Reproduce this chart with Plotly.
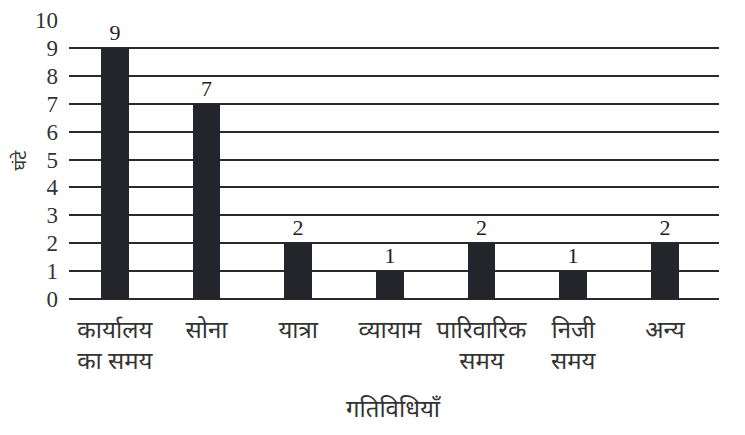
import plotly.graph_objects as go

categories = ["कार्यालय<br>का समय", "सोना", "यात्रा", "व्यायाम", "पारिवारिक<br>समय", "निजी<br>समय", "अन्य"]
hours = [9, 7, 2, 1, 2, 1, 2]
y_ticks = list(range(0, 11))

x_pos = list(range(len(categories)))
deva = "Noto Sans Devanagari, Noto Sans, sans-serif"

fig = go.Figure()
fig.add_trace(go.Bar(
    x=x_pos, y=hours, width=0.3,
    marker=dict(color="#23252b", line=dict(width=0)),
    text=[str(v) for v in hours], textposition="outside",
    textfont=dict(family="Liberation Serif", size=22, color="#222"),
    cliponaxis=False,
))

fig.update_layout(
    width=729, height=419,
    margin=dict(l=61, r=18, t=12, b=128, autoexpand=False),
    paper_bgcolor="white", plot_bgcolor="white",
    showlegend=False,
    bargap=0,
    annotations=[
        dict(text="गतिविधियाँ", xref="paper", yref="paper", x=0.5, y=-0.40,
             xanchor="center", yanchor="middle", showarrow=False,
             font=dict(family=deva, size=24, color="#333")),
        dict(text="घंटे", xref="paper", yref="paper", x=-0.074, y=0.5, textangle=-90,
             xanchor="center", yanchor="middle", showarrow=False,
             font=dict(family=deva, size=18, color="#333")),
    ],
)
fig.update_xaxes(
    range=[-0.5, 6.59], tickmode="array", tickvals=x_pos, ticktext=categories,
    showgrid=False, zeroline=False, showline=False, ticks="", automargin=False,
    ticklabelstandoff=14,
    tickfont=dict(family=deva, size=24, color="#333"),
)
fig.update_yaxes(
    range=[0, 10], tickmode="array", tickvals=y_ticks,
    showgrid=True, gridcolor="#2a2a2a", gridwidth=2,
    zeroline=True, zerolinecolor="#2a2a2a", zerolinewidth=2,
    showline=False, ticks="", automargin=False,
    ticklabelstandoff=10,
    tickfont=dict(family="Liberation Serif", size=23, color="#333"),
)

fig.write_html("out.html")
